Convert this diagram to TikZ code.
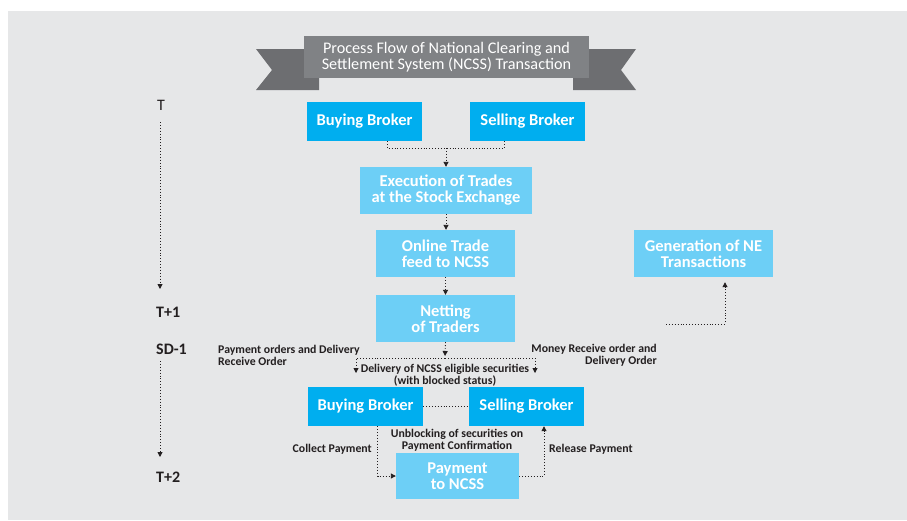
\documentclass[tikz,border=0pt]{standalone}
\usepackage{fontspec}
\setmainfont{Carlito}
\usetikzlibrary{arrows.meta,calc}
\definecolor{NBack}{HTML}{E6E7E8}
\definecolor{NGrey}{HTML}{808285}
\definecolor{NTail}{HTML}{6D6E71}
\definecolor{NCyan}{HTML}{00AEEF}
\definecolor{NSky}{HTML}{6DCFF6}
\definecolor{NInk}{HTML}{231F20}
\tikzset{
    broker/.style = {fill=NCyan, text=white, inner sep=0pt,
        minimum height=39pt,
        minimum width=115pt,
        font=\fontsize{16.5}{16}\selectfont\bfseries, align=center},
    stage/.style = {broker, fill=NSky, minimum height=47pt, minimum width=139pt},
    link/.style = {draw=NInk, dotted, line width=0.9pt},
    flow/.style = {link, -{Triangle[length=5pt,width=5pt]}},
    day/.style = {anchor=west, text=NInk, inner sep=0pt, font=\fontsize{16}{16}\selectfont\bfseries},
    note/.style = {text=NInk, inner sep=0pt, font=\fontsize{11.8}{12}\selectfont\bfseries}
}

\begin{document}
\begin{tikzpicture}[x=1pt,y=-1pt]
    \useasboundingbox (0,0) rectangle (907,520);
    \fill[NBack] (8,11) rectangle (907,520);
        \fill[NTail] (256,49) -- (272,70) -- (256,90) -- (319,90) -- (319,49) -- cycle;
        \fill[NTail] (636,49) -- (621,70) -- (636,90) -- (573,90) -- (573,49) -- cycle;
    \node[fill=NGrey, text=white, inner sep=0pt, minimum width=285pt, minimum height=42pt,
        align=center, font=\fontsize{16.2}{15.5}\selectfont] (title) at (446.5,57)
        {Process Flow of National Clearing and\\Settlement System (NCSS) Transaction};
            \node[broker] (buy) at (364.5,121.5) {Buying Broker};
            \node[broker] (sell) at (527.5,121.5) {Selling Broker};
            \node[stage, minimum width=172pt] (exec) at (446,190.5) {Execution of Trades\\at the Stock Exchange};
            \node[stage] (feed) at (445.5,253.5) {Online Trade\\feed to NCSS};
            \node[stage] (net) at (445.5,318.5) {Netting\\of Traders};
            \node[stage] (gen) at (703.5,253.5) {Generation of NE\\Transactions};
            \node[broker] (buyb) at (365.5,406.5) {Buying Broker};
            \node[broker] (sellb) at (526.5,406.5) {Selling Broker};
            \node[stage, minimum width=123pt, minimum height=46pt] (pay) at (457.5,476) {Payment\\to NCSS};
        \node[day, font=\fontsize{16}{16}\selectfont] (dT) at (157,105) {T};
        \node[day] (d1) at (156,312) {T+1};
        \node[day] (dsd) at (156,349) {SD-1};
        \node[day] (d2) at (156,477) {T+2};
                \node[note, anchor=west, align=left] (ordl) at (218,355) {Payment orders and Delivery\\Receive Order};
                \node[note, anchor=east, align=right] (ordr) at (657,355) {Money Receive order and\\Delivery Order};
                \node[note, align=center] (deliv) at (445,375) {Delivery of NCSS eligible securities\\(with blocked status)};
                \node[note, align=center] (unblk) at (457,440) {Unblocking of securities on\\Payment Confirmation};
                \node[note, anchor=east] (coll) at (372,449) {Collect Payment};
                \node[note, anchor=west] (rel) at (549,449) {Release Payment};
    \coordinate (j1) at (446,148);
    \coordinate (j2) at (445,358);
    \coordinate (dl) at (356,373);
    \coordinate (dr) at (535,373);
    \coordinate (g0) at (666,324);
    \coordinate (a0) at (160,122);
    \coordinate (a1) at (160,289);
    \coordinate (b0) at (160,361);
    \coordinate (b1) at (160,457);
        \draw[link] ([xshift=22.5pt]buy.south) -- ++(0,7) -| ([xshift=-23.5pt]sell.south);
        \draw[flow] (j1) -- (exec.north);
        \draw[flow] (exec.south) -- (exec.south |- feed.north);
        \draw[flow] (feed.south) -- (net.north);
        \draw[flow] (net.south) -- ([yshift=2pt]j2);
        \draw[flow] (j2) -| (dl);
        \draw[flow] (j2) -| (dr);
        \draw[link] (buyb.east) -- (sellb.west);
        \draw[flow] ([xshift=12pt]buyb.south) |- (pay.west);
        \draw[flow] (pay.east) -| ([xshift=17.5pt]sellb.south);
        \draw[flow] (g0) -| ([xshift=21.5pt,yshift=-5pt]gen.south);
        \draw[flow] (a0) -- (a1);
        \draw[flow] (b0) -- (b1);
\end{tikzpicture}
\end{document}
